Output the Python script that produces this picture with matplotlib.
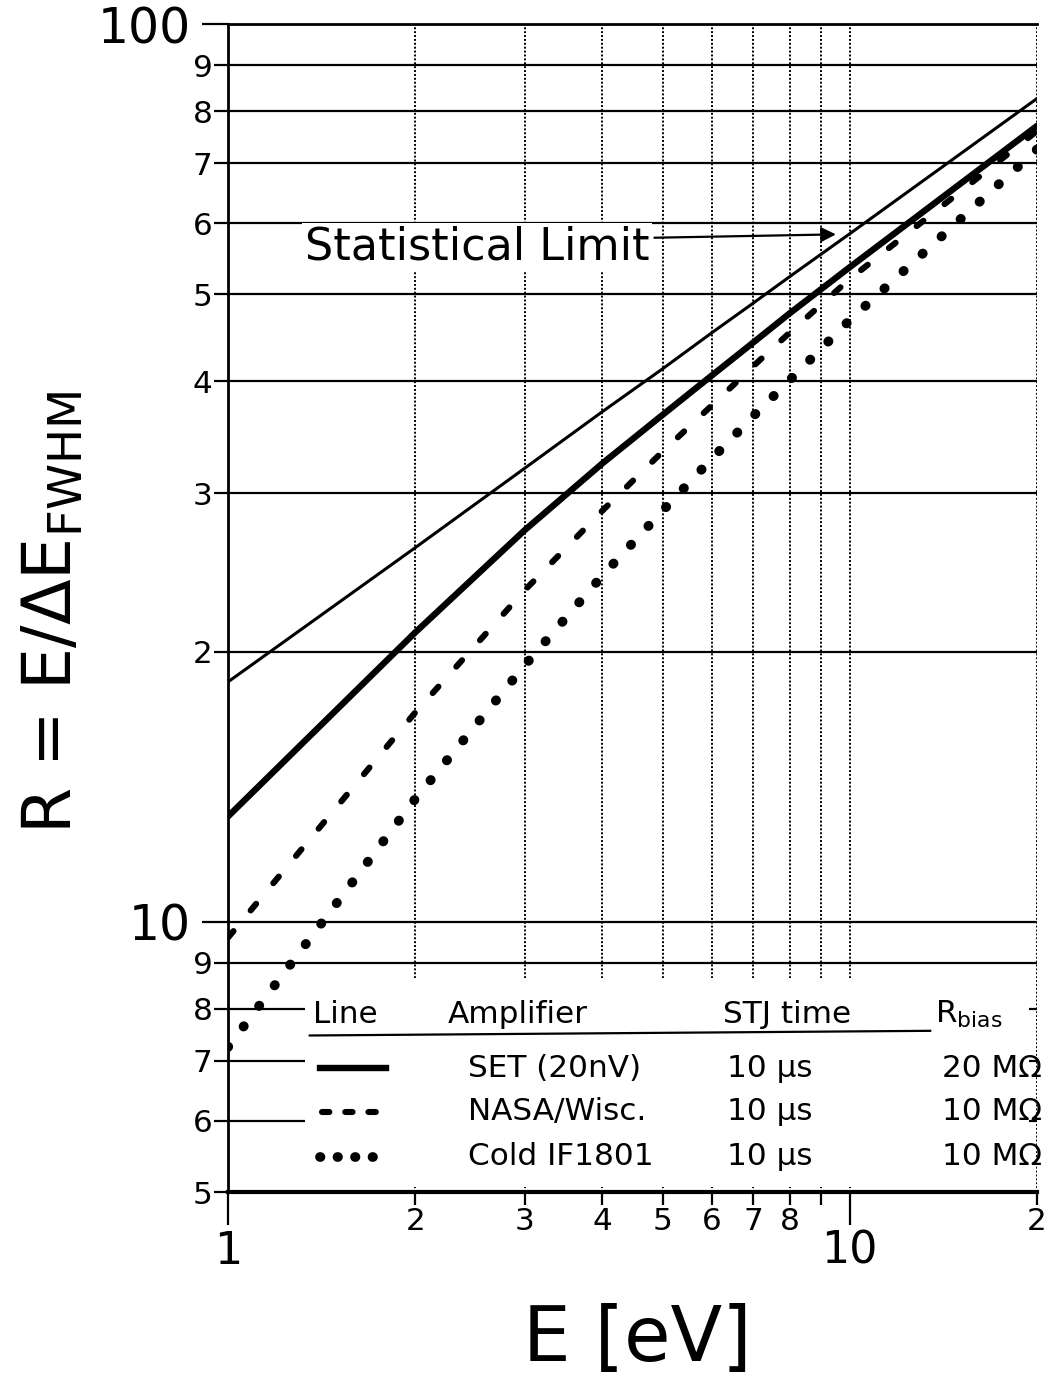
import matplotlib
matplotlib.use('Agg')
import matplotlib.pyplot as plt
from matplotlib import font_manager
from matplotlib.ticker import FixedLocator, FixedFormatter
from matplotlib.patches import Rectangle
from matplotlib.lines import Line2D

# values
energy = [1, 2, 3, 4, 5, 6, 7, 8, 10, 20]
stat_limit = [18.5, 26.1, 32.0, 37.0, 41.3, 45.3, 48.9, 52.3, 58.4, 82.6]
r_set = [13.1, 21.0, 27.3, 32.4, 36.7, 40.6, 44.2, 47.6, 53.6, 77.0]
r_nasa = [9.6, 17.1, 23.4, 28.7, 33.4, 37.6, 41.6, 45.3, 52.0, 76.0]
r_cold = [7.25, 13.7, 19.3, 24.3, 28.7, 32.8, 36.6, 40.1, 46.8, 72.5]

x_major = [1, 10]
x_major_labels = ['1', '10']
x_minor = [2, 3, 4, 5, 6, 7, 8, 9, 20]
x_minor_labels = ['2', '3', '4', '5', '6', '7', '8', '', '2']
y_major = [10, 100]
y_major_labels = ['10', '100']
y_minor = [5, 6, 7, 8, 9, 20, 30, 40, 50, 60, 70, 80, 90]
y_minor_labels = ['5', '6', '7', '8', '9', '2', '3', '4', '5', '6', '7', '8', '9']

legend_header = ['Line', 'Amplifier', 'STJ time', r'R$_{bias}$']
amplifiers = ['SET (20nV)', 'NASA/Wisc.', 'Cold IF1801']
stj_times = ['10 μs', '10 μs', '10 μs']
r_bias = ['20 MΩ', '10 MΩ', '10 MΩ']

names = {f.name for f in font_manager.fontManager.ttflist}
if 'Liberation Sans Narrow' in names:
    narrow = 'Liberation Sans Narrow'
    k = 1.0
else:
    narrow = 'DejaVu Sans'
    k = 0.8

plt.rcParams['font.family'] = ['DejaVu Sans']
plt.rcParams['mathtext.default'] = 'regular'

fig = plt.figure(figsize=(10.56, 13.95), dpi=100)
ax = fig.add_axes([228 / 1056, 1 - 1192 / 1395, 809 / 1056, 1168 / 1395])
ax.set_xscale('log')
ax.set_yscale('log')
ax.set_xlim(1, 20)
ax.set_ylim(5, 100)

# grid: solid horizontals, dotted verticals
for v in y_major + y_minor:
    ax.axhline(v, color='black', lw=1.6, zorder=0.5)
for v in x_major + x_minor:
    ax.axvline(v, color='black', lw=1.4, ls=(0, (1, 1)), zorder=0.5)

ax.xaxis.set_major_locator(FixedLocator(x_major))
ax.xaxis.set_major_formatter(FixedFormatter(x_major_labels))
ax.xaxis.set_minor_locator(FixedLocator(x_minor))
ax.xaxis.set_minor_formatter(FixedFormatter(x_minor_labels))
ax.yaxis.set_major_locator(FixedLocator(y_major))
ax.yaxis.set_major_formatter(FixedFormatter(y_major_labels))
ax.yaxis.set_minor_locator(FixedLocator(y_minor))
ax.yaxis.set_minor_formatter(FixedFormatter(y_minor_labels))

ax.tick_params(axis='x', which='major', direction='out', length=24, width=1.6, pad=3)
ax.tick_params(axis='x', which='minor', direction='out', length=9, width=1.6, pad=2)
ax.tick_params(axis='y', which='major', direction='out', length=19, width=1.6, pad=8)
ax.tick_params(axis='y', which='minor', direction='out', length=10, width=1.6, pad=1)
for lab in ax.xaxis.get_majorticklabels():
    lab.set_fontfamily(narrow)
    lab.set_fontsize(40 * k)
for lab in ax.xaxis.get_minorticklabels():
    lab.set_fontfamily(narrow)
    lab.set_fontsize(28 * k)
for lab in ax.yaxis.get_majorticklabels():
    lab.set_fontfamily(narrow)
    lab.set_fontsize(44 * k)
for lab in ax.yaxis.get_minorticklabels():
    lab.set_fontfamily(narrow)
    lab.set_fontsize(28 * k)

for side in ['top', 'left']:
    ax.spines[side].set_linewidth(2)
ax.spines['bottom'].set_linewidth(3)
ax.spines['right'].set_visible(False)

# curves
ax.plot(energy, stat_limit, color='black', lw=2.2, zorder=3)
ax.plot(energy, r_set, color='black', lw=4.6, solid_capstyle='round',
        solid_joinstyle='round', zorder=3)
ax.plot(energy, r_nasa, color='black', lw=4.4, ls=(0, (1.4, 4.4)),
        dash_capstyle='round', zorder=3)
ax.plot(energy, r_cold, color='black', lw=7, ls=(0, (0.05, 2.6)),
        dash_capstyle='round', zorder=3)

# statistical limit annotation
ax.text(1.33, 54.6, 'Statistical Limit', fontsize=32, va='baseline', ha='left',
        zorder=2, bbox=dict(facecolor='white', edgecolor='none', pad=2))
ax.annotate('', xy=(9.5, 58.3), xytext=(4.85, 57.8), zorder=4,
            arrowprops=dict(arrowstyle='-|>', lw=1.6, color='black',
                            mutation_scale=22, shrinkA=0, shrinkB=0))

# legend table
ax.add_patch(Rectangle((0.095, 0.004), 0.895, 0.179, transform=ax.transAxes,
                       facecolor='white', edgecolor='none', zorder=1))
hx = [0.105, 0.272, 0.612, 0.874]
for x, t in zip(hx, legend_header):
    ax.text(x, 0.152, t, transform=ax.transAxes, fontsize=28 * k,
            family=narrow, ha='left', va='center', zorder=4)
ax.add_line(Line2D([0.101, 0.868], [0.134, 0.138], transform=ax.transAxes,
                   color='black', lw=1.6, zorder=4))
row_y = [0.106, 0.0685, 0.030]
for y, a, t, r in zip(row_y, amplifiers, stj_times, r_bias):
    ax.text(0.297, y, a, transform=ax.transAxes, fontsize=28 * k,
            family=narrow, ha='left', va='center', zorder=4)
    ax.text(0.617, y, t, transform=ax.transAxes, fontsize=28 * k,
            family=narrow, ha='left', va='center', zorder=4)
    ax.text(1.006, y, r, transform=ax.transAxes, fontsize=28 * k,
            family=narrow, ha='right', va='center', zorder=4, clip_on=False)
ax.add_line(Line2D([0.114, 0.195], [row_y[0], row_y[0]], transform=ax.transAxes,
                   color='black', lw=4.6, zorder=4))
ax.add_line(Line2D([0.116, 0.196], [row_y[1], row_y[1]], transform=ax.transAxes,
                   color='black', lw=4.4, ls=(0, (1.2, 2.6)),
                   dash_capstyle='round', zorder=4))
ax.add_line(Line2D([0.114, 0.184], [row_y[2], row_y[2]], transform=ax.transAxes,
                   color='black', lw=7, ls=(0, (0.05, 1.75)),
                   dash_capstyle='round', zorder=4))

# axis titles
fig.text(53 / 1056, 1 - 612 / 1395, r'R = E/ΔE$_{FWHM}$', rotation=90,
         fontsize=60 * k, family=narrow, ha='center', va='center')
fig.text(637 / 1056, 1 - 1340 / 1395, 'E [eV]', fontsize=68 * k,
         family=narrow, ha='center', va='center')

fig.savefig('out.png', dpi=100)
